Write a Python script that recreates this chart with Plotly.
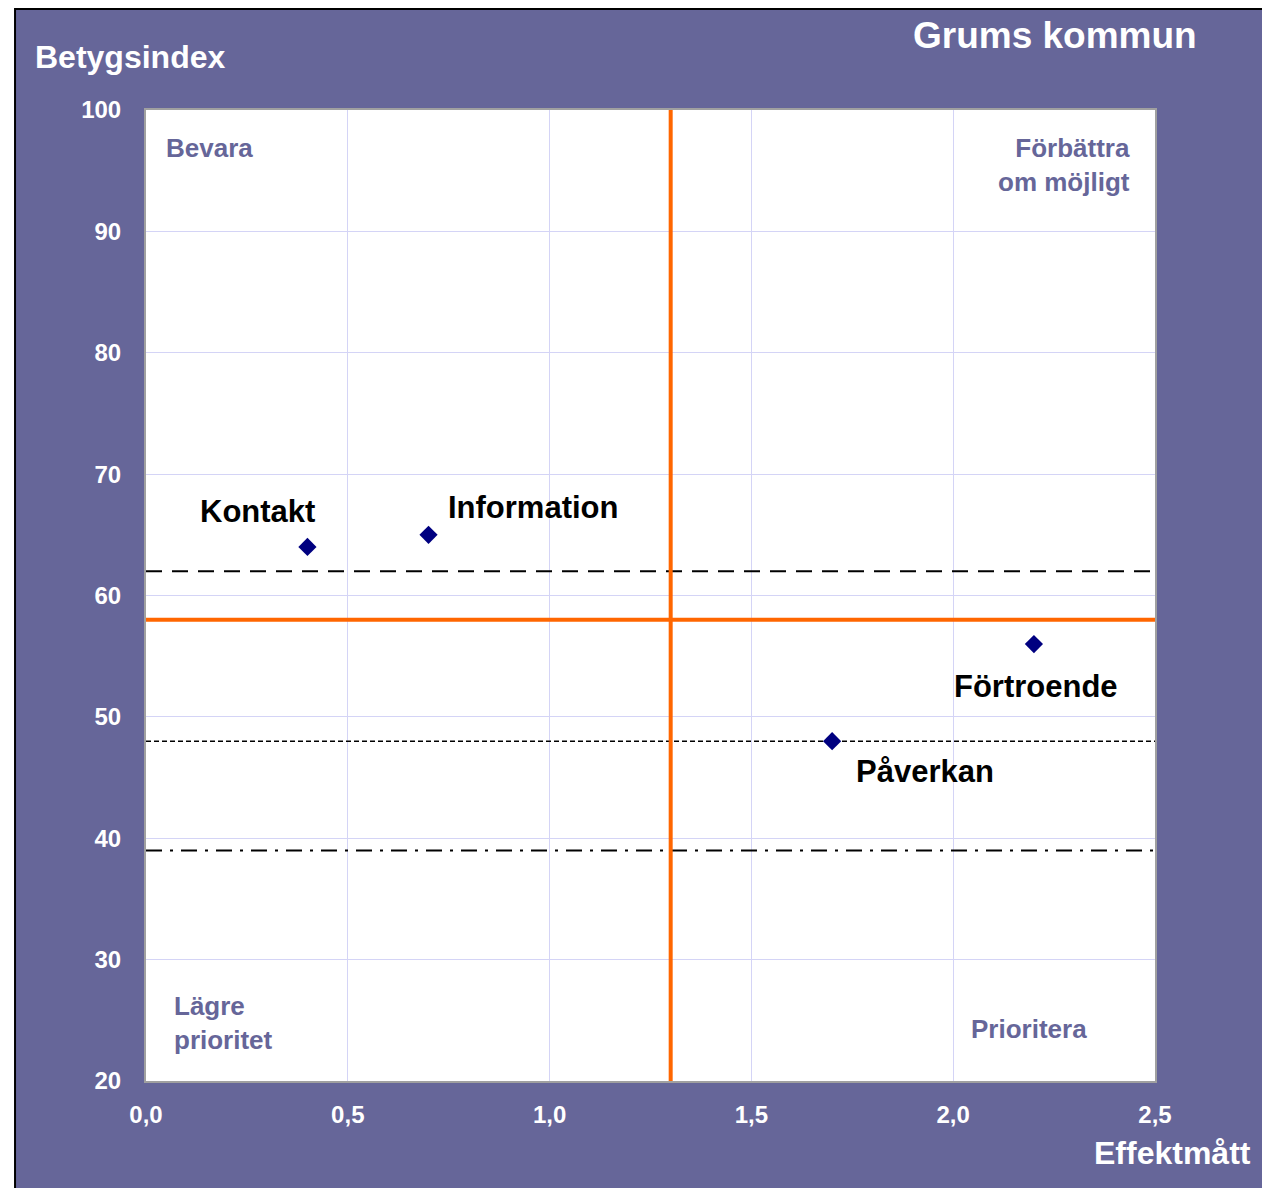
import plotly.graph_objects as go

# --- data ---
omraden = ["Kontakt", "Information", "Förtroende", "Påverkan"]
effektmatt = [0.4, 0.7, 2.2, 1.7]
betygsindex = [64, 65, 56, 48]

# referenslinjer
medel_effekt = 1.3
medel_betyg = 58
ref_streckad = 62
ref_prickad = 48
ref_streckprick = 39

x_ticks = [0.0, 0.5, 1.0, 1.5, 2.0, 2.5]
x_tick_text = ["0,0", "0,5", "1,0", "1,5", "2,0", "2,5"]
y_ticks = [20, 30, 40, 50, 60, 70, 80, 90, 100]

PURPLE = "#666699"
ORANGE = "#ff6600"
FONT = "Liberation Sans, Arial, sans-serif"

fig = go.Figure()

x_span = [x_ticks[0], x_ticks[-1]]

for y, dash, w in [
    (ref_streckad, "16px,10px", 2),
    (ref_prickad, "5px,3px", 1.5),
    (ref_streckprick, "16px,8px,3px,8px", 2),
]:
    fig.add_trace(go.Scatter(
        x=x_span, y=[y, y], mode="lines",
        line=dict(color="black", width=w, dash=dash),
        hoverinfo="skip", showlegend=False,
    ))

fig.add_trace(go.Scatter(
    x=x_span, y=[medel_betyg, medel_betyg], mode="lines",
    line=dict(color=ORANGE, width=4), hoverinfo="skip", showlegend=False,
))
fig.add_trace(go.Scatter(
    x=[medel_effekt, medel_effekt], y=[y_ticks[0], y_ticks[-1]], mode="lines",
    line=dict(color=ORANGE, width=4), hoverinfo="skip", showlegend=False,
))

fig.add_trace(go.Scatter(
    x=effektmatt, y=betygsindex, mode="markers",
    marker=dict(symbol="diamond", size=14, color="#000080"),
    text=omraden, showlegend=False,
))

# punktetiketter
label_pos = {
    "Kontakt": dict(xshift=-50, yshift=35),
    "Information": dict(xshift=105, yshift=27),
    "Förtroende": dict(xshift=2, yshift=-42),
    "Påverkan": dict(xshift=93, yshift=-30),
}
for namn, x, y in zip(omraden, effektmatt, betygsindex):
    fig.add_annotation(
        x=x, y=y, text=namn, showarrow=False,
        font=dict(family=FONT, size=31, color="black", weight="bold"),
        **label_pos[namn],
    )

# kvadrantetiketter
quad_font = dict(family=FONT, size=26, color=PURPLE, weight="bold")
fig.add_annotation(x=0.045, y=96.9, text="Bevara", showarrow=False,
                   xanchor="left", font=quad_font)
fig.add_annotation(x=2.442, y=95.5, text="Förbättra<br>om möjligt", showarrow=False,
                   xanchor="right", align="right", font=quad_font)
fig.add_annotation(x=0.065, y=24.8, text="Lägre<br>prioritet", showarrow=False,
                   xanchor="left", align="left", font=quad_font)
fig.add_annotation(x=2.337, y=24.3, text="Prioritera", showarrow=False,
                   xanchor="right", font=quad_font)

# rubriker
fig.add_annotation(xref="paper", yref="paper", x=1.044, y=1.077, text="Grums kommun",
                   showarrow=False, xanchor="right", yanchor="middle",
                   font=dict(family=FONT, size=37, color="white", weight="bold"))
fig.add_annotation(xref="paper", yref="paper", x=-0.112, y=1.0546, text="Betygsindex",
                   showarrow=False, xanchor="left", yanchor="middle",
                   font=dict(family=FONT, size=32, color="white", weight="bold"))
fig.add_annotation(xref="paper", yref="paper", x=1.097, y=-0.0742, text="Effektmått",
                   showarrow=False, xanchor="right", yanchor="middle",
                   font=dict(family=FONT, size=32, color="white", weight="bold"))

# lila bakgrund med svart ram, vit plotyta ovanpå
fig.add_shape(type="rect", xref="paper", yref="paper",
              x0=-0.1298, x1=1.3, y0=-0.2, y1=1.104,
              fillcolor=PURPLE, line=dict(color="black", width=2), layer="below")
fig.add_shape(type="rect", xref="x domain", yref="y domain",
              x0=0, x1=1, y0=0, y1=1,
              fillcolor="white", line_width=0, layer="below")

tick_font = dict(family=FONT, size=24, color="white", weight="bold")
fig.update_xaxes(
    range=x_span, tickvals=x_ticks, ticktext=x_tick_text,
    showgrid=True, gridcolor="#d4d4f6", gridwidth=1,
    showline=True, linecolor="#a0a0a0", linewidth=2, mirror=True,
    zeroline=False, ticks="", tickfont=tick_font, ticklabelstandoff=11,
)
fig.update_yaxes(
    range=[y_ticks[0], y_ticks[-1]], tickvals=y_ticks,
    showgrid=True, gridcolor="#d4d4f6", gridwidth=1,
    showline=True, linecolor="#a0a0a0", linewidth=2, mirror=True,
    zeroline=False, ticks="", tickfont=tick_font, ticklabelstandoff=18,
)

fig.update_layout(
    width=1262, height=1188,
    margin=dict(l=146, r=107, t=110, b=107),
    paper_bgcolor="white", plot_bgcolor="white",
    showlegend=False,
)

# sidan utan marginal och rullningslister
fig.write_html(
    "out.html",
    config={"displayModeBar": False},
    post_script="document.body.style.margin='0';document.body.style.overflow='hidden';",
)
